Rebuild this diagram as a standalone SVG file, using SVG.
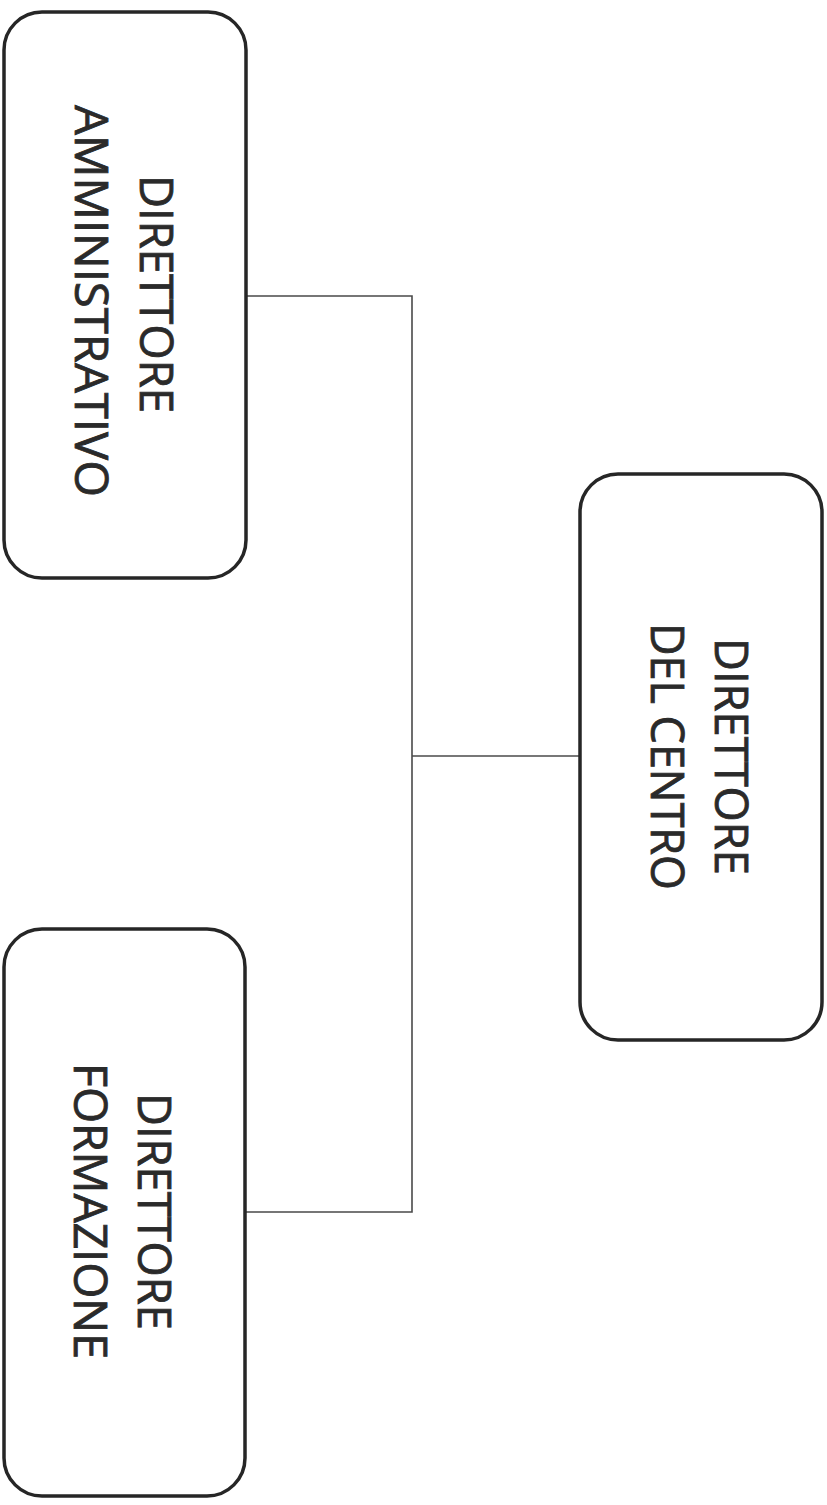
<svg xmlns="http://www.w3.org/2000/svg" width="827" height="1505" viewBox="0 0 827 1505">
<style>
.box{fill:#ffffff;stroke:#262626;stroke-width:3.5}
.lbl{font-family:"Open Sans","Noto Sans","Liberation Sans",sans-serif;font-size:45px;fill:#2a2a2a;stroke:#2a2a2a;stroke-width:0.8;text-anchor:middle}
.con{fill:none;stroke:#4a4a4a;stroke-width:1.6}
</style>
<rect width="827" height="1505" fill="#ffffff"/>
<g id="connectors">
<polyline class="con" points="247,296 412,296 412,1212 245,1212"/>
<line class="con" x1="412" y1="756" x2="580" y2="756"/>
</g>
<g id="node-amministrativo">
<rect class="box" x="4" y="12" width="242" height="566" rx="38" ry="38"/>
<text class="lbl" transform="translate(140,294) rotate(90)" textLength="238" lengthAdjust="spacingAndGlyphs">DIRETTORE</text>
<text class="lbl" transform="translate(75,301) rotate(90)" textLength="392" lengthAdjust="spacingAndGlyphs">AMMINISTRATIVO</text>
</g>
<g id="node-centro">
<rect class="box" x="580" y="474" width="242" height="566" rx="38" ry="38"/>
<text class="lbl" transform="translate(715,756.5) rotate(90)" textLength="237" lengthAdjust="spacingAndGlyphs">DIRETTORE</text>
<text class="lbl" transform="translate(651,756.5) rotate(90)" textLength="267" lengthAdjust="spacingAndGlyphs">DEL CENTRO</text>
</g>
<g id="node-formazione">
<rect class="box" x="4" y="929" width="241" height="567" rx="38" ry="38"/>
<text class="lbl" transform="translate(138,1211.5) rotate(90)" textLength="237" lengthAdjust="spacingAndGlyphs">DIRETTORE</text>
<text class="lbl" transform="translate(74,1211) rotate(90)" textLength="296" lengthAdjust="spacingAndGlyphs">FORMAZIONE</text>
</g>
</svg>
